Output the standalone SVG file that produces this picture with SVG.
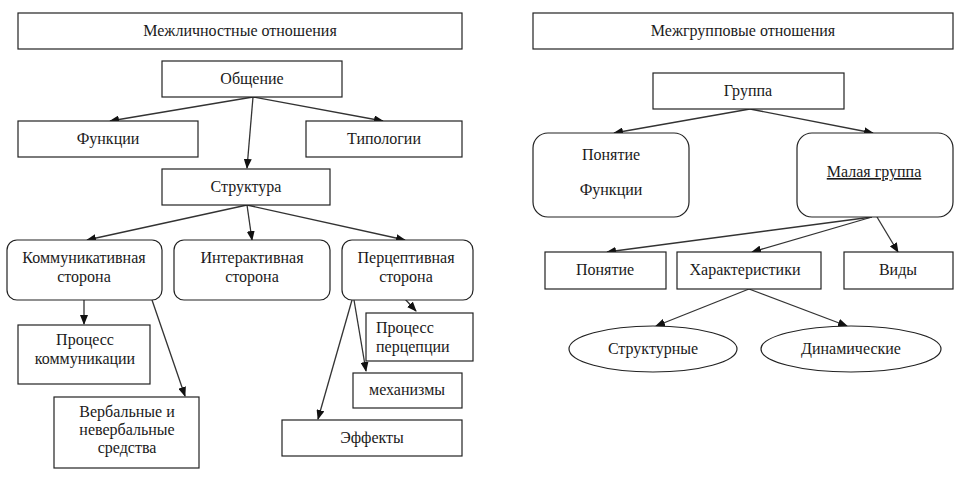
<svg xmlns="http://www.w3.org/2000/svg" width="961" height="480" viewBox="0 0 961 480">
<defs>
<marker id="ah" markerWidth="10" markerHeight="8" refX="9" refY="4" orient="auto" markerUnits="userSpaceOnUse">
<path d="M0,0 L10,4 L0,8 Z" fill="#111"/>
</marker>
<style>
rect, ellipse { fill: #fff; stroke: #222; stroke-width: 1.2; }
text { font-family: "Liberation Serif", "Times New Roman", serif; font-size: 16px; fill: #1a1a1a; text-anchor: middle; }
.c line { stroke: #333; stroke-width: 1.3; marker-end: url(#ah); }
</style>
</defs>
<rect width="961" height="480" style="fill:#fff;stroke:none"/>

<g class="c" id="connectors">
<line x1="253" y1="97" x2="110" y2="121"/>
<line x1="253" y1="97" x2="383" y2="121"/>
<line x1="253" y1="97" x2="247" y2="168"/>
<line x1="247" y1="205" x2="87" y2="240"/>
<line x1="247" y1="205" x2="252" y2="240"/>
<line x1="247" y1="205" x2="405" y2="240"/>
<line x1="84" y1="300" x2="84" y2="324"/>
<line x1="152" y1="300" x2="185" y2="396"/>
<line x1="405" y1="299" x2="416" y2="311"/>
<line x1="354" y1="300" x2="366" y2="371"/>
<line x1="352" y1="300" x2="318" y2="419"/>
<line x1="750" y1="109" x2="614" y2="133"/>
<line x1="750" y1="109" x2="873" y2="133"/>
<line x1="872" y1="217" x2="607" y2="252"/>
<line x1="872" y1="217" x2="752" y2="252"/>
<line x1="877" y1="217" x2="898" y2="252"/>
<line x1="749" y1="289" x2="656" y2="326"/>
<line x1="749" y1="289" x2="847" y2="326"/>
</g>

<g id="mezhlichnostnye"><rect x="18" y="13" width="444" height="36"/><text x="240" y="36">Межличностные отношения</text></g>
<g id="obshchenie"><rect x="162" y="61" width="180" height="36"/><text x="252" y="84">Общение</text></g>
<g id="funktsii"><rect x="18" y="121" width="180" height="36"/><text x="108" y="144">Функции</text></g>
<g id="tipologii"><rect x="306" y="121" width="156" height="36"/><text x="384" y="144">Типологии</text></g>
<g id="struktura"><rect x="162" y="169" width="168" height="36"/><text x="246" y="192">Структура</text></g>
<g id="kommunikativnaya"><rect x="7" y="240" width="155" height="60" rx="10"/><text x="84" y="263">Коммуникативная</text><text x="84" y="282">сторона</text></g>
<g id="interaktivnaya"><rect x="174" y="240" width="156" height="60" rx="10"/><text x="252" y="263">Интерактивная</text><text x="252" y="282">сторона</text></g>
<g id="pertseptivnaya"><rect x="342" y="240" width="131" height="60" rx="10"/><text x="406" y="263">Перцептивная</text><text x="406" y="282">сторона</text></g>
<g id="protsess-kommunikatsii"><rect x="18" y="325" width="132" height="59"/><text x="85" y="345">Процесс</text><text x="85" y="364">коммуникации</text></g>
<g id="verbalnye"><rect x="54" y="397" width="145" height="71"/><text x="127" y="417">Вербальные и</text><text x="127" y="435">невербальные</text><text x="127" y="453">средства</text></g>
<g id="protsess-pertseptsii"><rect x="366" y="313" width="107" height="48"/><text x="376" y="333" style="text-anchor:start">Процесс</text><text x="376" y="352" style="text-anchor:start">перцепции</text></g>
<g id="mekhanizmy"><rect x="353" y="373" width="109" height="35"/><text x="407" y="395">механизмы</text></g>
<g id="effekty"><rect x="282" y="420" width="180" height="36"/><text x="372" y="443">Эффекты</text></g>

<g id="mezhgruppovye"><rect x="533" y="13" width="420" height="36"/><text x="743" y="36">Межгрупповые отношения</text></g>
<g id="gruppa"><rect x="653" y="73" width="191" height="36"/><text x="748" y="96">Группа</text></g>
<g id="ponyatie-funktsii"><rect x="533" y="133" width="156" height="84" rx="15"/><text x="611" y="160">Понятие</text><text x="611" y="195">Функции</text></g>
<g id="malaya-gruppa"><rect x="797" y="133" width="156" height="84" rx="15"/><text x="874" y="177" style="text-decoration:underline">Малая группа</text></g>
<g id="ponyatie"><rect x="545" y="252" width="121" height="37"/><text x="605" y="275">Понятие</text></g>
<g id="kharakteristiki"><rect x="677" y="252" width="144" height="37"/><text x="745" y="275">Характеристики</text></g>
<g id="vidy"><rect x="844" y="252" width="109" height="37"/><text x="898" y="275">Виды</text></g>
<g id="strukturnye"><ellipse cx="653" cy="349" rx="84" ry="23"/><text x="653" y="354">Структурные</text></g>
<g id="dinamicheskie"><ellipse cx="851" cy="349" rx="90" ry="23"/><text x="851" y="354">Динамические</text></g>
</svg>
